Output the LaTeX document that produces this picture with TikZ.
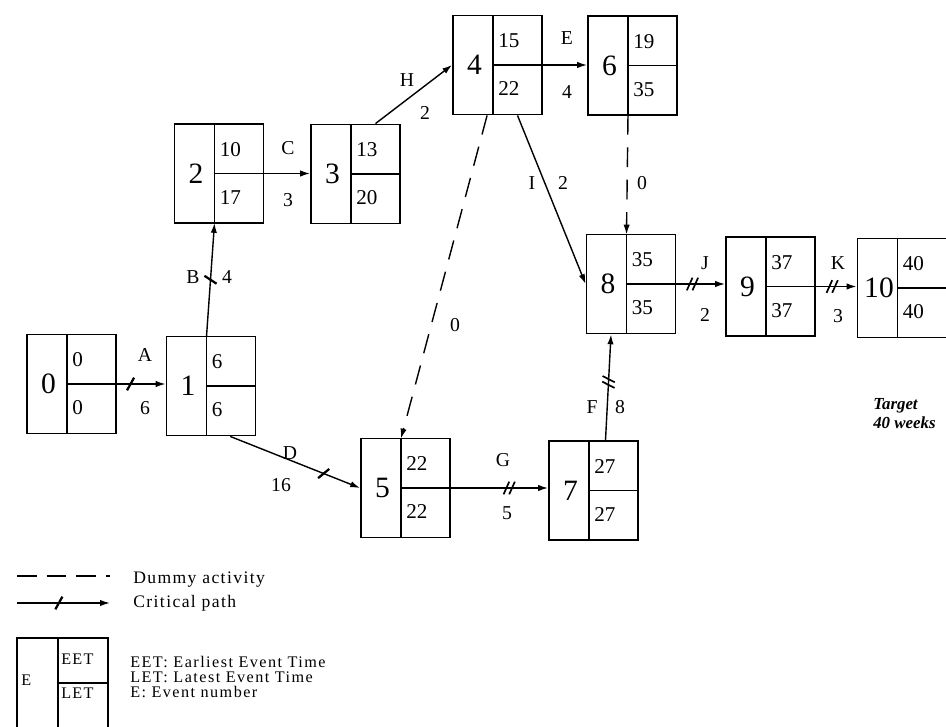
\documentclass[tikz,border=0pt]{standalone}
\usepackage{fontspec}
\setmainfont{Liberation Serif}
\usetikzlibrary{arrows.meta,decorations.markings}

\tikzset{
  evbox/.style={draw, line width=1.3pt, minimum width=2.225cm, minimum height=2.475cm, inner sep=0pt},
  evline/.style={line width=1.3pt},
  evnum/.style={inner sep=0pt, font=\fontsize{21}{22}\selectfont},
  evtime/.style={anchor=west, inner sep=0pt, font=\fontsize{15}{16}\selectfont},
  lbl/.style={inner sep=0pt, font=\fontsize{14}{15}\selectfont},
  leg/.style={anchor=west, inner sep=0pt, font=\fontsize{12.5}{13}\selectfont\addfontfeature{LetterSpace=8}},
  act/.style={line width=1pt, -{Latex[length=7pt,width=4.5pt]}},
  dummy/.style={act, dash pattern=on 14pt off 9pt},
  crit/.style={postaction={decorate, decoration={markings,
      mark=at position #1 with {\draw[-, solid, line width=1.6pt] (-2.5pt,-4.5pt) -- (2.5pt,4.5pt);}}}},
  critt/.style={postaction={decorate, decoration={markings,
      mark=at position #1 with {\draw[-, solid, line width=1.2pt] (-4pt,-4.5pt) -- (0pt,4.5pt);
                                \draw[-, solid, line width=1.2pt] (0pt,-4.5pt) -- (4pt,4.5pt);}}}}
}

\begin{document}
\begin{tikzpicture}[x=0.025cm,y=-0.025cm]
\useasboundingbox (0,0) rectangle (946,727);
\clip (0,0) rectangle (946,727);

% events: number / centre / EET / LET
\foreach \n/\x/\y/\ee/\le in {0/71.5/384/0/0, 1/211/386/6/6, 2/219/173.5/10/17,
    3/355.5/174/13/20, 4/497.5/65/15/22, 5/405.5/488/22/22, 6/632.5/65.5/19/35,
    7/593.5/490.5/27/27, 8/631/284/35/35, 9/770.5/286.5/37/37, 10/902/288/40/40} {
  \node[evbox] (e\n) at (\x,\y) {};
  \coordinate (t\n) at ({\x-4.5},{\y-49.5});
  \coordinate (b\n) at ({\x-4.5},{\y+49.5});
  \draw[evline] (t\n) -- (b\n);
  \draw[evline] ({\x-4.5},\y) -- (e\n.east);
  \node[evnum] (n\n) at ({\x-23},\y) {\n};
  \node[evtime] (s\n) at ({\x+0.5},{\y-24}) {\ee};
  \node[evtime] (f\n) at ({\x+0.5},{\y+24}) {\le};
}

% activities
\draw[act,crit=0.28] (e0.east) -- (e0.east -| e1.west);
\draw[act,crit=0.5] (t1) -- (b2);
\draw[act] (e2.east) -- (e2.east -| e3.west);
\draw[act] ([xshift=0.5cm]e3.north) -- (e4.west);
\draw[act] (e4.east) -- (e4.east -| e6.west);
\draw[act] ([xshift=0.5cm]e4.south) -- (e8.west);
\draw[dummy] ([xshift=-0.26cm]e4.south) -- (t5);
\draw[dummy] (b6) -- (t8);
\draw[act,crit=0.72] ([xshift=0.48cm]e1.south) -- (e5.west);
\draw[act,critt=0.6] (e5.east) -- (e5.east -| e7.west);
\draw[act,critt=0.55] ([xshift=0.3cm]e7.north) -- ([xshift=-0.5cm]e8.south);
\draw[act,critt=0.33] (e8.east) -- (e8.east -| e9.west);
\draw[act,critt=0.4] (e9.east) -- (e9.east -| e10.west);

% activity labels and durations
\node[lbl] (lA) at (145,355) {A};  \node[lbl] (dA) at (145,408) {6};
\node[lbl] (lB) at (193,277) {B};  \node[lbl] (dB) at (227,277) {4};
\node[lbl] (lC) at (288,148) {C};  \node[lbl] (dC) at (288,200) {3};
\node[lbl] (lH) at (407,80) {H};   \node[lbl] (dH) at (425,113) {2};
\node[lbl] (lE) at (567,38) {E};   \node[lbl] (dE) at (567,92) {4};
\node[lbl] (lI) at (532,183) {I};  \node[lbl] (dI) at (563,183) {2};
\node[lbl] (dX) at (455,325) {0};
\node[lbl] (dY) at (642,183) {0};
\node[lbl] (lD) at (290,453) {D};  \node[lbl] (dD) at (281,485) {16};
\node[lbl] (lG) at (503,460) {G};  \node[lbl] (dG) at (507,513) {5};
\node[lbl] (lF) at (592,407) {F};  \node[lbl] (dF) at (620,407) {8};
\node[lbl] (lJ) at (705,263) {J};  \node[lbl] (dJ) at (705,315) {2};
\node[lbl] (lK) at (838,263) {K};  \node[lbl] (dK) at (838,316) {3};

\node[lbl, anchor=west, align=left, font=\fontsize{12}{13.5}\selectfont\itshape\bfseries]
  (target) at (873,414) {Target\\40 weeks};

% key
\coordinate (legd1) at (17,576);
\coordinate (legd2) at (110,576);
\coordinate (legc1) at (17,603);
\coordinate (legc2) at (110,603);
\draw[line width=1pt, dash pattern=on 14pt off 7pt] (legd1) -- (legd2);
\draw[act,crit=0.45] (legc1) -- (legc2);
\node[leg] (legdum) at (133,580) {Dummy activity};
\node[leg] (legcrit) at (133,603) {Critical path};

\draw[evline] (17,638) rectangle (108,760);
\draw[evline] (58,638) -- (58,760);
\draw[evline] (58,683) -- (108,683);
\node[leg, font=\fontsize{11.5}{12}\selectfont\addfontfeature{LetterSpace=8}] (legE) at (21,680) {E};
\node[leg, font=\fontsize{11.5}{12}\selectfont\addfontfeature{LetterSpace=8}] (legEET) at (61,659) {EET};
\node[leg, font=\fontsize{11.5}{12}\selectfont\addfontfeature{LetterSpace=8}] (legLET) at (61,693) {LET};
\node[leg, align=left, font=\fontsize{11.5}{11}\selectfont\addfontfeature{LetterSpace=9}] (legtxt) at (130,677)
  {EET: Earliest Event Time\\LET: Latest Event Time\\E: Event number};
\end{tikzpicture}
\end{document}
